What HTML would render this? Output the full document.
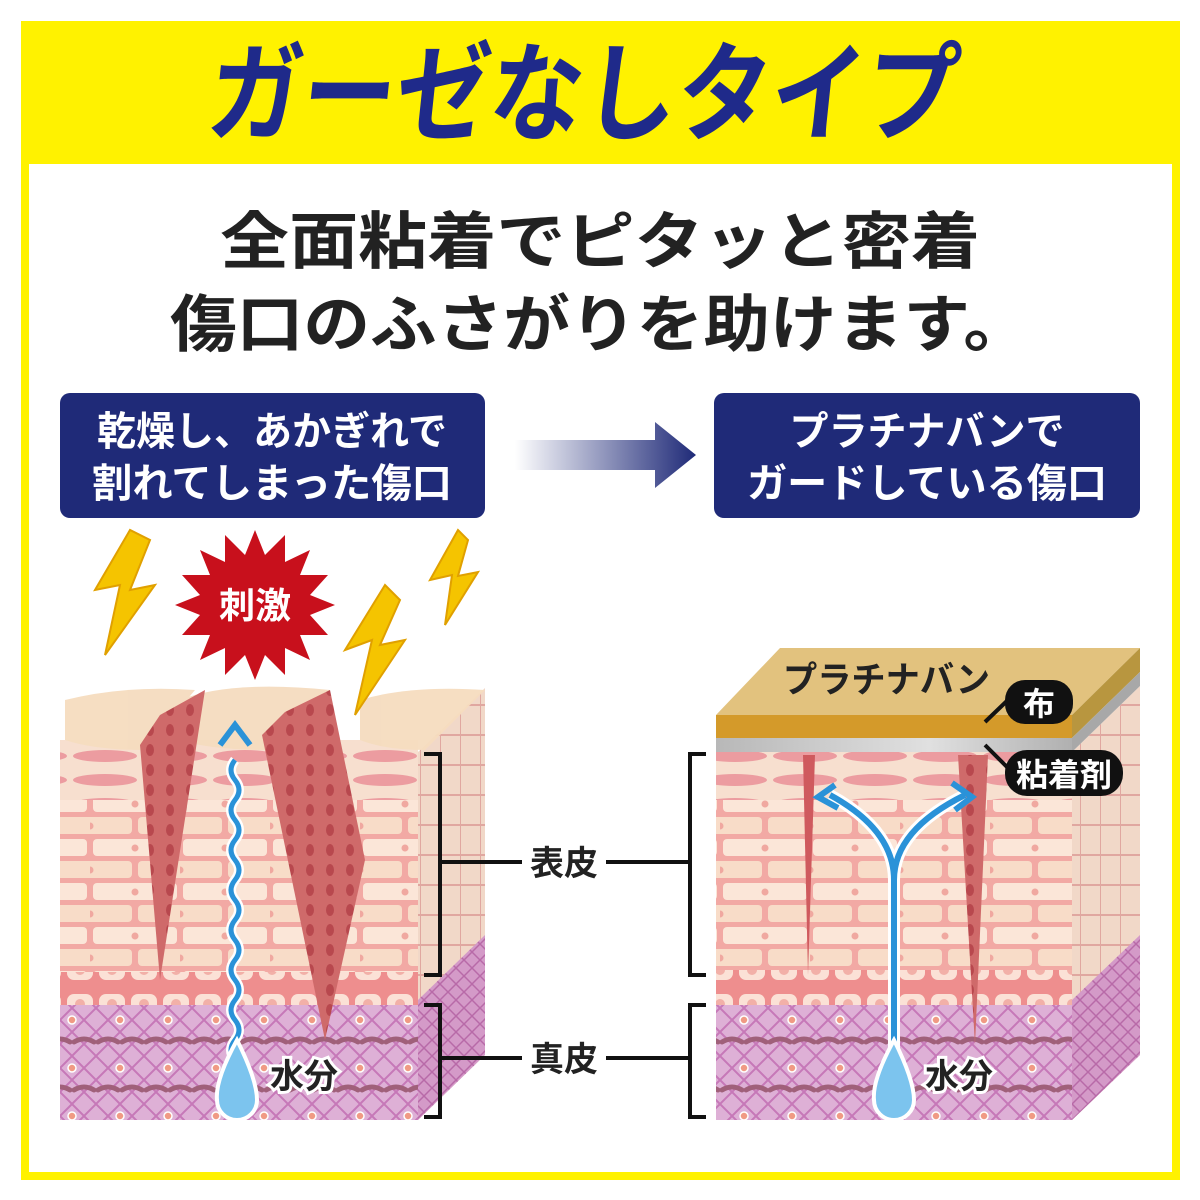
<!DOCTYPE html>
<html><head><meta charset="utf-8"><style>
html,body{margin:0;padding:0;background:#fff}
svg{display:block}
text{font-family:"Liberation Sans","Noto Sans CJK JP",sans-serif;font-weight:bold}
</style></head><body>
<svg width="1200" height="1200" viewBox="0 0 1200 1200" xmlns="http://www.w3.org/2000/svg">
<defs>
<linearGradient id="arr" x1="0" x2="1"><stop offset="0" stop-color="#fff"/><stop offset="1" stop-color="#1f2a78"/></linearGradient>
<linearGradient id="gray" x1="0" x2="1"><stop offset="0" stop-color="#b8b8b8"/><stop offset=".6" stop-color="#e0e0e0"/><stop offset="1" stop-color="#b0b0b0"/></linearGradient>
<pattern id="lens" width="70" height="24" patternUnits="userSpaceOnUse"><rect width="70" height="24" fill="#f7dfcf"/><ellipse cx="35" cy="12" rx="32" ry="6" fill="#ec9ca0"/></pattern>
<pattern id="brick" width="90" height="44" patternUnits="userSpaceOnUse"><rect width="90" height="44" fill="#f2a9a4"/><rect x="3" y="3" width="84" height="17" rx="4" fill="#fbe6d8"/><rect x="-42" y="25" width="84" height="17" rx="4" fill="#f8dcc8"/><rect x="48" y="25" width="84" height="17" rx="4" fill="#f8dcc8"/><circle cx="45" cy="12" r="3.5" fill="#f0a8a0"/><circle cx="0" cy="34" r="3.5" fill="#f0a8a0"/></pattern>
<pattern id="round" width="32" height="34" patternUnits="userSpaceOnUse"><rect width="32" height="34" fill="#ee8e8e"/><rect x="3" y="8" width="26" height="20" rx="7" fill="#fbe1d6"/><circle cx="16" cy="18" r="5" fill="#f2b0a8"/></pattern>
<pattern id="derm" width="48" height="48" patternUnits="userSpaceOnUse"><rect width="48" height="48" fill="#deb0d6"/><path d="M0 0L48 48M48 0L0 48M24 0L48 24L24 48L0 24Z" stroke="#c678b8" stroke-width="2" fill="none"/><circle cx="24" cy="12" r="4" fill="#f09a84" stroke="#fff" stroke-width="1.5"/><path d="M2 34q10-6 20 0M26 34q10-6 20 0" stroke="#a0607a" stroke-width="5" fill="none" stroke-linecap="round"/></pattern>
<pattern id="side" width="20" height="30" patternUnits="userSpaceOnUse"><rect width="20" height="30" fill="#f1d8c8"/><path d="M0 0V30M0 15H20" stroke="#e0a7a0" stroke-width="2"/></pattern>
<pattern id="sideD" width="16" height="16" patternUnits="userSpaceOnUse"><rect width="16" height="16" fill="#d49ac8"/><path d="M0 0L16 16M16 0L0 16" stroke="#b86aa8" stroke-width="1.5"/></pattern>
<pattern id="crack" width="20" height="20" patternUnits="userSpaceOnUse"><rect width="20" height="20" fill="#cf6a6a"/><ellipse cx="10" cy="10" rx="4" ry="6" fill="#b8484e"/></pattern>
</defs>
<rect x="21" y="21" width="1159" height="1159" fill="#fff200"/>
<rect x="29" y="164" width="1143" height="1008" fill="#fff"/>
<g transform="translate(580,132) skewX(-6)">
<text x="0" y="0" font-size="108" fill="#1f2a8a" text-anchor="middle" textLength="750" lengthAdjust="spacingAndGlyphs">ガーゼなしタイプ</text>
</g>
<text x="600" y="263" font-size="62" fill="#222" text-anchor="middle" textLength="760" lengthAdjust="spacingAndGlyphs">全面粘着でピタッと密着</text>
<text x="600" y="346" font-size="62" fill="#222" text-anchor="middle" textLength="860" lengthAdjust="spacingAndGlyphs">傷口のふさがりを助けます。</text>
<rect x="60" y="393" width="425" height="125" rx="10" fill="#1f2a78"/>
<text x="272" y="445" font-size="40" fill="#fff" text-anchor="middle" textLength="350" lengthAdjust="spacingAndGlyphs">乾燥し、あかぎれで</text>
<text x="272" y="497" font-size="40" fill="#fff" text-anchor="middle" textLength="360" lengthAdjust="spacingAndGlyphs">割れてしまった傷口</text>
<rect x="714" y="393" width="426" height="125" rx="10" fill="#1f2a78"/>
<text x="927" y="445" font-size="40" fill="#fff" text-anchor="middle" textLength="275" lengthAdjust="spacingAndGlyphs">プラチナバンで</text>
<text x="927" y="497" font-size="40" fill="#fff" text-anchor="middle" textLength="360" lengthAdjust="spacingAndGlyphs">ガードしている傷口</text>
<polygon points="515,440 655,440 655,422 696,455 655,488 655,470 515,470" fill="url(#arr)"/>

<!-- LEFT BLOCK -->
<polygon points="418,752 485,688 485,1055 418,1120" fill="url(#side)"/>
<polygon points="418,1000 485,935 485,1055 418,1120" fill="url(#sideD)"/>
<rect x="60" y="740" width="358" height="60" fill="url(#lens)"/>
<rect x="60" y="800" width="358" height="175" fill="url(#brick)"/>
<rect x="60" y="972" width="358" height="34" fill="url(#round)"/>
<rect x="60" y="1005" width="358" height="115" fill="url(#derm)"/>
<g fill="#f5dcbf" opacity=".95">
<path d="M65 700q60 -15 130 -10l-50 60q-50 0 -80 -10z"/>
<path d="M180 700q50 -20 150 -10l-60 60q-60 0 -90 -10z"/>
<path d="M360 700q50 -15 125 -10l-60 60q-40 0 -65 -10z"/>
</g>
<polygon points="140,745 160,715 205,690 160,980" fill="url(#crack)"/>
<polygon points="262,735 285,712 330,690 365,860 325,1040" fill="url(#crack)"/>
<path d="M235 1060 q-8 -10 0 -20 q8 -10 0 -20 q-8 -10 0 -20 q8 -10 0 -20 q-8 -10 0 -20 q8 -10 0 -20 q-8 -10 0 -20 q8 -10 0 -20 q-8 -10 0 -20 q8 -10 0 -20 q-8 -10 0 -20 q8 -10 0 -20 q-8 -10 0 -20 q8 -10 0 -20 q-8 -10 0 -20" stroke="#fff" stroke-width="10" fill="none"/>
<path d="M235 1060 q-8 -10 0 -20 q8 -10 0 -20 q-8 -10 0 -20 q8 -10 0 -20 q-8 -10 0 -20 q8 -10 0 -20 q-8 -10 0 -20 q8 -10 0 -20 q-8 -10 0 -20 q8 -10 0 -20 q-8 -10 0 -20 q8 -10 0 -20 q-8 -10 0 -20 q8 -10 0 -20 q-8 -10 0 -20" stroke="#2a92d8" stroke-width="5" fill="none"/>
<path d="M220 745 L235 725 L250 745" stroke="#2a92d8" stroke-width="6" fill="none"/>
<path d="M237 1040 q-22 40 -20 60 a20 20 0 0 0 40 0 q0 -20 -20 -60z" fill="#7cc4ee" stroke="#fff" stroke-width="4"/>
<text x="270" y="1088" font-size="34" fill="#222" stroke="#fff" stroke-width="6" paint-order="stroke">水分</text>
<polygon fill="#c8101c" points="255,530 265,555 285,535 285,562 310,550 300,575 328,575 310,595 335,605 310,615 328,635 300,635 310,660 285,648 285,675 265,655 255,680 245,655 225,675 225,648 200,660 210,635 182,635 200,615 175,605 200,595 182,575 210,575 200,550 225,562 225,535 245,555"/>
<text x="255" y="618" font-size="36" fill="#fff" text-anchor="middle">刺激</text>
<g fill="#f5c400" stroke="#e0a000" stroke-width="2">
<polygon points="130,530 95,590 120,585 105,655 155,585 130,590 150,540"/>
<polygon points="385,585 345,650 372,640 355,715 405,640 380,645 400,600"/>
<polygon points="458,530 430,580 452,575 445,625 478,572 458,576 468,540"/>
</g>

<!-- RIGHT BLOCK -->
<polygon points="1072,752 1140,686 1140,1055 1072,1120" fill="url(#side)"/>
<polygon points="1072,1000 1140,935 1140,1055 1072,1120" fill="url(#sideD)"/>
<rect x="716" y="752" width="356" height="48" fill="url(#lens)"/>
<rect x="716" y="800" width="356" height="172" fill="url(#brick)"/>
<rect x="716" y="970" width="356" height="36" fill="url(#round)"/>
<rect x="716" y="1005" width="356" height="115" fill="url(#derm)"/>
<polygon points="803,755 815,755 808,975" fill="#cf5a5e"/>
<polygon points="958,755 988,755 975,1045" fill="url(#crack)"/>
<polygon points="716,715 780,648 1140,648 1072,715" fill="#e2c27e"/>
<rect x="716" y="715" width="356" height="23" fill="#d49a2a"/>
<rect x="716" y="738" width="356" height="14" fill="url(#gray)"/>
<polygon points="1072,715 1140,648 1140,672 1072,738" fill="#b8963f"/>
<polygon points="1072,738 1140,672 1140,686 1072,752" fill="#a8a8a8"/>
<text x="783" y="692" font-size="36" fill="#222" textLength="207" lengthAdjust="spacingAndGlyphs">プラチナバン</text>
<path d="M985 722 L1010 698" stroke="#111" stroke-width="4"/>
<rect x="1005" y="680" width="68" height="44" rx="20" fill="#111"/>
<text x="1039" y="715" font-size="32" fill="#fff" text-anchor="middle">布</text>
<path d="M985 745 L1010 770" stroke="#111" stroke-width="4"/>
<rect x="1005" y="750" width="118" height="46" rx="22" fill="#111"/>
<text x="1064" y="786" font-size="32" fill="#fff" text-anchor="middle">粘着剤</text>
<path d="M894 1060 V880 Q894 830 830 795" stroke="#fff" stroke-width="12" fill="none"/>
<path d="M894 880 Q894 830 965 795" stroke="#fff" stroke-width="12" fill="none"/>
<path d="M894 1060 V880 Q894 830 830 795 M894 880 Q894 830 965 795" stroke="#2a92d8" stroke-width="6" fill="none"/>
<path d="M835 785 L818 797 L838 808 M952 783 L972 797 L955 810" stroke="#2a92d8" stroke-width="6" fill="none"/>
<path d="M894 1040 q-22 40 -20 60 a20 20 0 0 0 40 0 q0 -20 -20 -60z" fill="#7cc4ee" stroke="#fff" stroke-width="4"/>
<text x="925" y="1088" font-size="34" fill="#222" stroke="#fff" stroke-width="6" paint-order="stroke">水分</text>

<g stroke="#111" stroke-width="4" fill="none">
<path d="M424 754 H440 V975 H424"/>
<path d="M424 1005 H440 V1117 H424"/>
<path d="M440 862 H522 M606 862 H690"/>
<path d="M440 1058 H522 M606 1058 H690"/>
<path d="M706 754 H690 V975 H706"/>
<path d="M706 1005 H690 V1117 H706"/>
</g>
<text x="564" y="875" font-size="34" fill="#222" text-anchor="middle">表皮</text>
<text x="564" y="1071" font-size="34" fill="#222" text-anchor="middle">真皮</text>
</svg>
</body></html>
